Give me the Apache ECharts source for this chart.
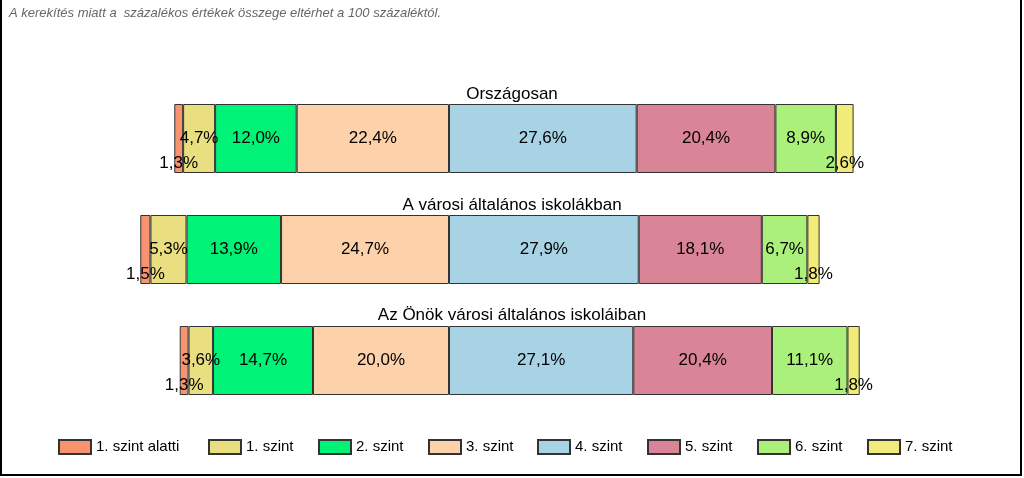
<!DOCTYPE html>
<html>
<head>
<meta charset="utf-8">
<script src="https://cdn.jsdelivr.net/npm/echarts@6/dist/echarts.min.js"></script>
<style>
  body { margin: 0; background: #fff; }
  #main { position: absolute; left: 0; top: 0; width: 1024px; height: 478px; }
  #frame { position: absolute; left: 0; top: 0; width: 1022px; height: 476px; box-sizing: border-box;
           border-left: 2px solid #000; border-right: 2px solid #000; border-bottom: 2px solid #000; pointer-events: none; }
</style>
</head>
<body>
<div id="main"></div>
<div id="frame"></div>
<script>
// sorok (felülről lefelé)
let categories = ['Országosan', 'A városi általános iskolákban', 'Az Önök városi általános iskoláiban']
let levels = ['1. szint alatti', '1. szint', '2. szint', '3. szint', '4. szint', '5. szint', '6. szint', '7. szint']
let colors = ['#f7946f', '#e9de80', '#00f277', '#fdd1aa', '#a7d3e5', '#d98497', '#abf07a', '#f1ec79']

// százalékok szintenként
let alatti = [1.3, 1.5, 1.3]
let szint1 = [4.7, 5.3, 3.6]
let szint2 = [12.0, 13.9, 14.7]
let szint3 = [22.4, 24.7, 20.0]
let szint4 = [27.6, 27.9, 27.1]
let szint5 = [20.4, 18.1, 20.4]
let szint6 = [8.9, 6.7, 11.1]
let szint7 = [2.6, 1.8, 1.8]

let values = [alatti, szint1, szint2, szint3, szint4, szint5, szint6, szint7]

const fontFamily = "'Liberation Sans', Arial, sans-serif"
const chart = echarts.init(document.getElementById('main'))

function fmt (p) {
  return Math.abs(p.value).toFixed(1).replace('.', ',') + '%'
}

// bal oldal: 3. szinttől kifelé halmozva (negatív), jobb oldal: 4. szinttől
let order = [3, 2, 1, 0, 4, 5, 6, 7]
let series = order.map(function (i) {
  let neg = i < 4
  let small = (i === 0 || i === 7)
  return {
    name: levels[i],
    type: 'bar',
    stack: 'total',
    barWidth: 69,
    itemStyle: { color: colors[i], borderColor: '#333', borderWidth: 1 },
    label: {
      show: true,
      position: small ? 'insideBottom' : 'inside',
      distance: 1,
      color: '#000',
      fontSize: 17,
      fontFamily: fontFamily,
      formatter: fmt
    },
    data: values[i].map(function (v) { return neg ? -v : v })
  }
})

let titleTops = [81, 192, 302]
let titles = categories.map(function (c, k) {
  return {
    text: c,
    left: 'center',
    top: titleTops[k],
    textStyle: { fontSize: 17, fontWeight: 'normal', color: '#000', fontFamily: fontFamily }
  }
})
titles.push({
  text: 'A kerekítés miatt a  százalékos értékek összege eltérhet a 100 százaléktól.',
  left: 4,
  top: 2,
  textStyle: { fontSize: 13, fontWeight: 'normal', fontStyle: 'italic', color: '#666', fontFamily: fontFamily }
})

// egy jelmagyarázat elemenként (az első után egyenletes közzel)
let legendLefts = [58, 208, 318, 428, 537, 647, 757, 867]
let legends = levels.map(function (l, k) {
  return {
    data: [l],
    left: legendLefts[k],
    top: 439,
    padding: 0,
    icon: 'rect',
    itemWidth: 32,
    itemHeight: 14,
    textStyle: { fontSize: 15, color: '#000', fontFamily: fontFamily }
  }
})

let option = {
  animation: false,
  title: titles,
  grid: { left: 41, right: 31, top: 83, bottom: 62 },
  xAxis: {
    type: 'value',
    min: -60,
    max: 80,
    show: false
  },
  yAxis: {
    type: 'category',
    data: categories,
    inverse: true,
    show: false
  },
  legend: legends,
  series: series
}

chart.setOption(option)
</script>
</body>
</html>
